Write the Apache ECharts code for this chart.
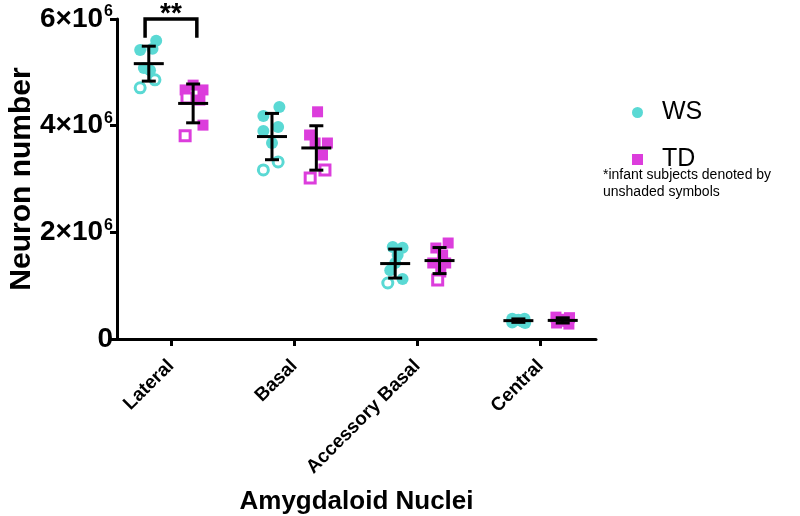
<!DOCTYPE html>
<html><head><meta charset="utf-8">
<script src="https://cdn.jsdelivr.net/npm/echarts@6/dist/echarts.min.js"></script>
<style>html,body{margin:0;padding:0;background:#fff}#c{width:800px;height:516px}</style>
</head><body><div id="c"></div>
<script>
// ---- data ----
const categories = ['Lateral', 'Basal', 'Accessory Basal', 'Central'];
const yTickValues = [0, 2e6, 4e6, 6e6];
const groups = ['WS', 'TD'];

// Williams syndrome, older subjects (filled symbols)
const wsFilled = [
  [5.59e6, 5.44e6, 5.42e6, 5.08e6, 5.04e6],
  [4.35e6, 4.18e6, 3.975e6, 3.9e6, 3.675e6],
  [1.725e6, 1.71e6, 1.575e6, 1.425e6, 1.29e6, 1.125e6],
  [0.38e6, 0.38e6, 0.36e6, 0.35e6, 0.33e6, 0.31e6, 0.30e6]
];
const wsFilledJitter = [
  [0.06, 0.03, -0.07, -0.04, 0.01],
  [0.06, -0.07, 0.05, -0.07, 0.0],
  [-0.02, 0.06, 0.02, 0.0, -0.04, 0.06],
  [-0.05, 0.05, 0.0, -0.03, 0.03, -0.05, 0.055]
];
// Williams syndrome, infant subjects (open symbols)
const wsInfant = [
  [4.86e6, 4.71e6],
  [3.32e6, 3.17e6],
  [1.05e6],
  []
];
const wsInfantJitter = [
  [0.05, -0.07],
  [0.05, -0.07],
  [-0.06],
  []
];
// Typically developing, older subjects (filled)
const tdFilled = [
  [4.76e6, 4.67e6, 4.67e6, 4.48e6, 4.01e6],
  [4.26e6, 3.825e6, 3.675e6, 3.675e6, 3.45e6],
  [1.8e6, 1.706e6, 1.575e6, 1.425e6, 1.425e6, 1.256e6],
  [0.41e6, 0.40e6, 0.37e6, 0.35e6, 0.33e6, 0.30e6, 0.28e6]
];
const tdFilledJitter = [
  [0.0, -0.065, 0.08, 0.055, 0.08],
  [0.01, -0.055, -0.01, 0.09, 0.05],
  [0.07, -0.03, 0.025, -0.055, 0.05, 0.01],
  [-0.055, 0.055, 0.0, -0.04, 0.04, -0.05, 0.05]
];
// Typically developing, infant subjects (open)
const tdInfant = [
  [4.52e6, 3.81e6],
  [3.17e6, 3.02e6],
  [1.106e6],
  []
];
const tdInfantJitter = [
  [-0.05, -0.065],
  [0.07, -0.05],
  [-0.015],
  []
];
// significance: [category index, label]
const significance = [[0, '**']];

// ---- build ----
const WS_COLOR = '#5ad9d4';
const TD_COLOR = '#dc3ddc';
const GROUP_OFFSET = [-0.18, 0.18];
const FONT = 'Liberation Sans';

function pts(vals, jit, gi) {
  const out = [];
  vals.forEach((arr, ci) => arr.forEach((v, k) => out.push([ci + GROUP_OFFSET[gi] + jit[ci][k], v])));
  return out;
}
function stats(a) {
  const n = a.length, m = a.reduce((s, v) => s + v, 0) / n;
  const sd = Math.sqrt(a.reduce((s, v) => s + (v - m) * (v - m), 0) / (n - 1));
  return [m, sd];
}
const summary = [];
categories.forEach((c, ci) => {
  [[wsFilled, wsInfant], [tdFilled, tdInfant]].forEach((g, gi) => {
    const all = g[0][ci].concat(g[1][ci]);
    const s = stats(all);
    summary.push([ci + GROUP_OFFSET[gi], s[0], s[1]]);
  });
});

const chart = echarts.init(document.getElementById('c'), null, {renderer: 'canvas'});
const option = {
  animation: false,
  backgroundColor: '#fff',
  grid: {left: 117, right: 204, top: 19, bottom: 177, containLabel: false, outerBoundsMode: 'none'},
  legend: {
    data: [{name: 'WS', icon: 'circle'}, {name: 'TD', icon: 'rect'}],
    orient: 'vertical', left: 627, top: 95,
    itemWidth: 11, itemHeight: 11, itemGap: 22,
    textStyle: {fontFamily: FONT, fontSize: 25, color: '#000', lineHeight: 24, padding: [0, 0, 0, 14]}
  },
  xAxis: {
    type: 'value', min: -0.438, max: 3.45,
    axisLine: {onZero: false, lineStyle: {color: '#000', width: 3}},
    axisTick: {show: true, length: 7, lineStyle: {color: '#000', width: 3}, customValues: [0, 1, 2, 3]},
    axisLabel: {
      customValues: [0, 1, 2, 3], rotate: 45, margin: 24,
      formatter: v => categories[Math.round(v)] || '',
      fontFamily: FONT, fontWeight: 'bold', fontSize: 19, color: '#000'
    },
    splitLine: {show: false},
    name: 'Amygdaloid Nuclei', nameLocation: 'middle', nameGap: 150, nameMoveOverlap: false,
    nameTextStyle: {fontFamily: FONT, fontWeight: 'bold', fontSize: 26, color: '#000'}
  },
  yAxis: {
    type: 'value', min: 0, max: 6e6, interval: 2e6,
    axisLine: {show: true, onZero: false, lineStyle: {color: '#000', width: 3}},
    axisTick: {show: true, length: 7, lineStyle: {color: '#000', width: 3}},
    axisLabel: {
      margin: 4,
      formatter: v => v === 0 ? '{b|0}' : '{b|' + (v / 1e6) + '×10}{s|6}',
      rich: {
        b: {fontFamily: FONT, fontWeight: 'bold', fontSize: 28, color: '#000'},
        s: {fontFamily: FONT, fontWeight: 'bold', fontSize: 16, color: '#000', padding: [0, 0, 14, 1]}
      }
    },
    splitLine: {show: false},
    name: 'Neuron number', nameLocation: 'middle', nameGap: 80, nameRotate: 90, nameMoveOverlap: false,
    nameTextStyle: {fontFamily: FONT, fontWeight: 'bold', fontSize: 30, color: '#000'}
  },
  graphic: [{
    type: 'text', left: 603, top: 167,
    style: {text: '*infant subjects denoted by\nunshaded symbols', fontFamily: FONT, fontSize: 14, lineHeight: 17, fill: '#000'}
  }],
  series: [
    {name: 'WS', type: 'scatter', symbol: 'circle', symbolSize: 12, z: 2,
     itemStyle: {color: WS_COLOR, opacity: 1}, data: pts(wsFilled, wsFilledJitter, 0)},
    {name: 'WS infant', type: 'scatter', symbol: 'circle', symbolSize: 10, z: 3,
     itemStyle: {color: '#fff', borderColor: WS_COLOR, borderWidth: 3, opacity: 1}, data: pts(wsInfant, wsInfantJitter, 0)},
    {name: 'TD', type: 'scatter', symbol: 'rect', symbolSize: 11, z: 2,
     itemStyle: {color: TD_COLOR, opacity: 1}, data: pts(tdFilled, tdFilledJitter, 1)},
    {name: 'TD infant', type: 'scatter', symbol: 'rect', symbolSize: 10, z: 3,
     itemStyle: {color: '#fff', borderColor: TD_COLOR, borderWidth: 3, opacity: 1}, data: pts(tdInfant, tdInfantJitter, 1)},
    {
      name: 'mean±SD', type: 'custom', z: 10, silent: true,
      data: summary,
      renderItem: (params, api) => {
        const x = api.value(0), m = api.value(1), sd = api.value(2);
        const pm = api.coord([x, m]), pt = api.coord([x, m + sd]), pb = api.coord([x, m - sd]);
        const st = {stroke: '#000', lineWidth: 3};
        return {type: 'group', children: [
          {type: 'line', shape: {x1: pm[0] - 15, y1: pm[1], x2: pm[0] + 15, y2: pm[1]}, style: st},
          {type: 'line', shape: {x1: pt[0], y1: pt[1], x2: pb[0], y2: pb[1]}, style: st},
          {type: 'line', shape: {x1: pt[0] - 7, y1: pt[1], x2: pt[0] + 7, y2: pt[1]}, style: st},
          {type: 'line', shape: {x1: pb[0] - 7, y1: pb[1], x2: pb[0] + 7, y2: pb[1]}, style: st}
        ]};
      }
    },
    {
      name: 'significance', type: 'custom', z: 10, silent: true, clip: false,
      data: significance.map(s => [s[0], 6.0e6, 5.65e6]),
      renderItem: (params, api) => {
        const c = api.value(0);
        const l = api.coord([c - 0.21, api.value(1)]), r = api.coord([c + 0.21, api.value(1)]);
        const lb = api.coord([c - 0.21, api.value(2)]);
        const st = {stroke: '#000', lineWidth: 3.5, fill: null};
        return {type: 'group', children: [
          {type: 'polyline', shape: {points: [[l[0], lb[1]], [l[0], l[1]], [r[0], l[1]], [r[0], lb[1]]]}, style: st},
          {type: 'text', x: (l[0] + r[0]) / 2, y: l[1] - 19,
           style: {text: significance[params.dataIndex][1], fontFamily: FONT, fontWeight: 'bold', fontSize: 28,
                   fill: '#000', align: 'center', verticalAlign: 'top'}}
        ]};
      }
    }
  ]
};
chart.setOption(option);
</script>
</body></html>
